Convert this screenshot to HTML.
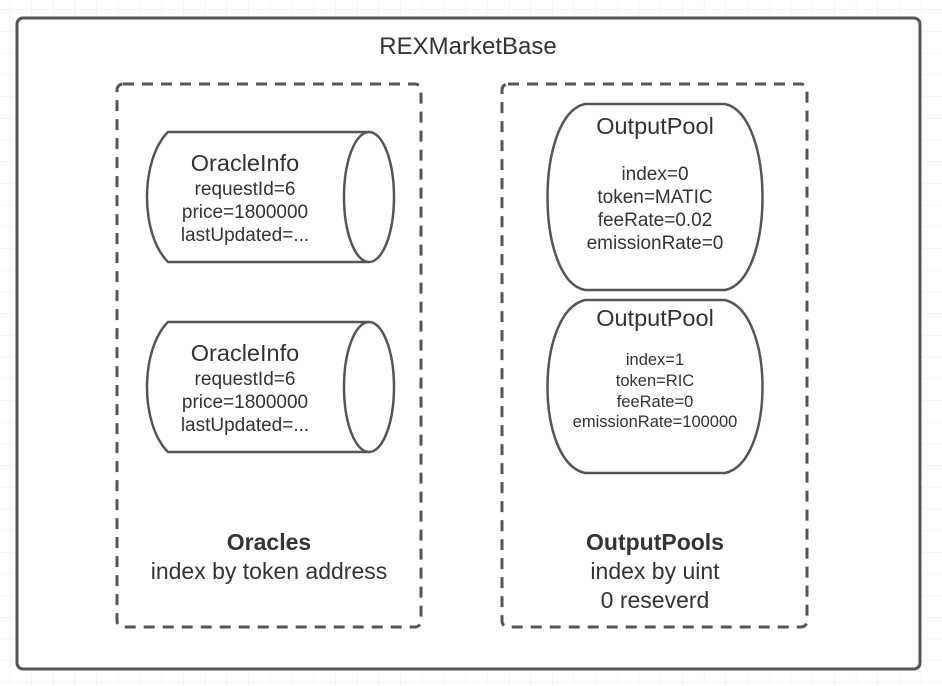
<!DOCTYPE html>
<html><head><meta charset="utf-8"><style>
html,body{margin:0;padding:0;background:#fff;}
svg{display:block;}
text{font-family:"Liberation Sans",sans-serif;fill:#333;text-anchor:middle;}
</style></head><body>
<svg width="942" height="686" viewBox="0 0 942 686" xmlns="http://www.w3.org/2000/svg">
<defs>
<pattern id="g" width="21.7" height="21.7" patternUnits="userSpaceOnUse" x="10" y="10">
<path d="M21.7 0V21.7M0 21.7H21.7" fill="none" stroke="#ececec" stroke-width="1"/>
</pattern>
</defs>
<rect width="942" height="686" fill="url(#g)"/>
<rect x="17" y="18" width="903" height="651" rx="6" fill="#fff" stroke="#555" stroke-width="3"/>
<text x="468" y="54" font-size="24">REXMarketBase</text>

<rect x="117" y="84" width="304" height="543" rx="6" fill="none" stroke="#555" stroke-width="3" stroke-dasharray="11 8"/>
<rect x="502" y="84" width="305" height="543" rx="6" fill="none" stroke="#555" stroke-width="3" stroke-dasharray="11 8"/>

<g fill="#fff" stroke="#555" stroke-width="2.5">
<path d="M369 132 H168 C140 160 140 234 168 262 H369"/>
<ellipse cx="369" cy="197" rx="25" ry="65"/>
<path d="M369 322 H168 C140 350 140 424 168 452 H369"/>
<ellipse cx="369" cy="387" rx="25" ry="65"/>
<path d="M585 104 H725 C775 115 775 280 725 290 H585 C535 280 535 115 585 104 Z"/>
<path d="M585 300 H725 C775 312 775 462 725 473 H585 C535 462 535 312 585 300 Z"/>
</g>

<text x="245" y="171" font-size="23.5">OracleInfo</text>
<text x="245" y="195" font-size="19">requestId=6</text>
<text x="245" y="218" font-size="19">price=1800000</text>
<text x="245" y="241" font-size="19">lastUpdated=...</text>

<text x="245" y="361" font-size="23.5">OracleInfo</text>
<text x="245" y="385" font-size="19">requestId=6</text>
<text x="245" y="408" font-size="19">price=1800000</text>
<text x="245" y="431" font-size="19">lastUpdated=...</text>

<text x="655" y="134" font-size="23.5">OutputPool</text>
<text x="655" y="180" font-size="19">index=0</text>
<text x="655" y="203" font-size="19">token=MATIC</text>
<text x="655" y="226" font-size="19">feeRate=0.02</text>
<text x="655" y="249" font-size="19">emissionRate=0</text>

<text x="655" y="326" font-size="23.5">OutputPool</text>
<text x="655" y="365" font-size="16.5">index=1</text>
<text x="655" y="386" font-size="16.5">token=RIC</text>
<text x="655" y="407" font-size="16.5">feeRate=0</text>
<text x="655" y="427" font-size="16.5">emissionRate=100000</text>

<text x="269" y="550" font-size="23" font-weight="bold">Oracles</text>
<text x="269" y="579" font-size="23">index by token address</text>
<text x="655" y="550" font-size="23" font-weight="bold">OutputPools</text>
<text x="655" y="579" font-size="23">index by uint</text>
<text x="655" y="608" font-size="23">0 reseverd</text>
</svg>
</body></html>
